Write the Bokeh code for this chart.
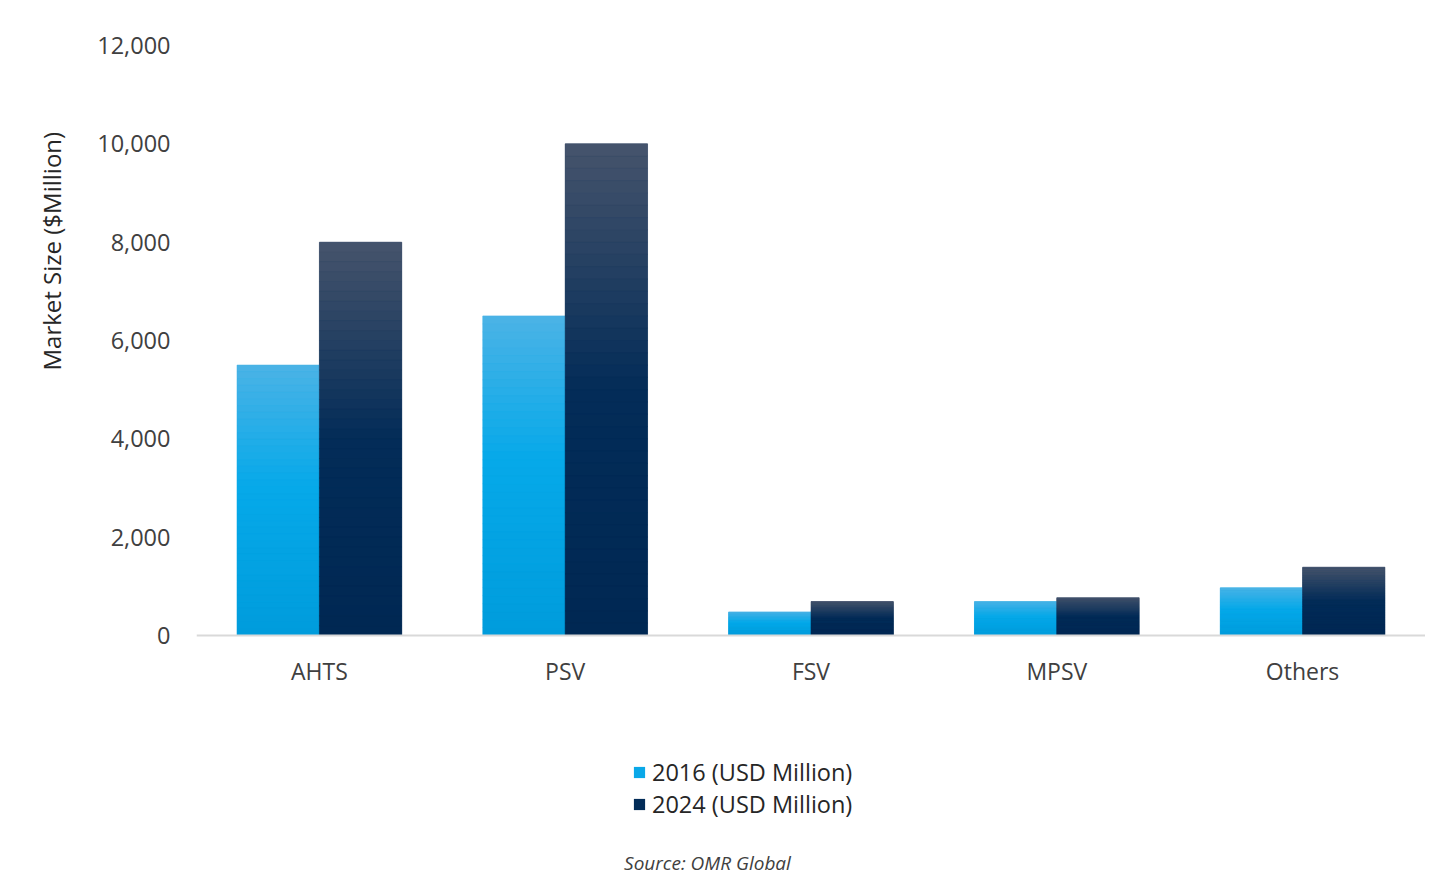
from bokeh.plotting import figure
from bokeh.models import (ColumnDataSource, Range1d, FixedTicker,
                          NumeralTickFormatter, Legend, LegendItem, Title, Label)
from bokeh.transform import dodge
from bokeh.embed import file_html
from bokeh.resources import INLINE

# ---- data ----
categories = ["AHTS", "PSV", "FSV", "MPSV", "Others"]
values_2016 = [5500, 6500, 480, 690, 970]
values_2024 = [8000, 10000, 690, 770, 1390]
series_names = ["2016 (USD Million)", "2024 (USD Million)"]
y_ticks = [0, 2000, 4000, 6000, 8000, 10000, 12000]
y_axis_title = "Market Size ($Million)"
source_note = "Source: OMR Global"
y_max = 12000

# ---- layout / style ----
FONT = "Open Sans"
TEXT = "#404040"
BAR_W = 0.335
OFFS = [-0.1675, 0.1675]
TOP = 45            # px above the frame
PLOT_H = 590        # px between value 0 and y_max
BELOW_H = 245       # px of frame kept below value 0 (legend + note area)
FRAME_H = PLOT_H + BELOW_H
y_min = -y_max * BELOW_H / PLOT_H
base_colors = ["#0aa8e8", "#022c58"]
stops = [
    [(0.0, "#4cb3e6"), (0.45, "#06a9e9"), (1.0, "#009cdc")],
    [(0.0, "#46546c"), (0.5, "#032c58"), (1.0, "#002853")],
]


def hex2rgb(h):
    h = h.lstrip("#")
    return [int(h[i:i + 2], 16) for i in (0, 2, 4)]


def interp(st, t):
    for (a, ca), (b, cb) in zip(st[:-1], st[1:]):
        if a <= t <= b:
            f = (t - a) / (b - a) if b > a else 0
            c1, c2 = hex2rgb(ca), hex2rgb(cb)
            c = [round(c1[k] + (c2[k] - c1[k]) * f) for k in range(3)]
            return "#%02x%02x%02x" % tuple(c)
    return st[-1][1]


p = figure(x_range=categories, y_range=Range1d(y_min, y_max),
           frame_width=1229, frame_height=FRAME_H, output_backend="svg",
           toolbar_location=None, min_border_left=196, min_border_right=0,
           min_border_top=TOP, min_border_bottom=0)
p.background_fill_color = "white"
p.border_fill_color = "white"
p.outline_line_color = None
p.xgrid.grid_line_color = None
p.ygrid.grid_line_color = None

base_src = ColumnDataSource(dict(cat=categories, v2016=values_2016, v2024=values_2024))
renderers = []
for k, col in enumerate(["v2016", "v2024"]):
    r = p.vbar(x=dodge("cat", OFFS[k], range=p.x_range), top=col, width=BAR_W,
               source=base_src, fill_color=base_colors[k], line_color=None)
    renderers.append(r)

# gradient overlay slices derived from the data values
N = 40
for k, vals in enumerate([values_2016, values_2024]):
    xs, tops, bottoms, cols = [], [], [], []
    for c, v in zip(categories, vals):
        for i in range(N):
            t0, t1 = i / N, (i + 1) / N
            xs.append(c)
            tops.append(v * (1 - t0))
            bottoms.append(v * (1 - t1))
            cols.append(interp(stops[k], (t0 + t1) / 2))
    src = ColumnDataSource(dict(x=xs, top=tops, bottom=bottoms, color=cols))
    p.vbar(x=dodge("x", OFFS[k], range=p.x_range), top="top", bottom="bottom",
           width=BAR_W, source=src, fill_color="color", line_color="color",
           line_width=0.6)

# x axis drawn at value 0 inside the frame
p.xaxis.fixed_location = 0
p.xaxis.axis_line_color = "#d9d9d9"
p.xaxis.axis_line_width = 2
p.xaxis.major_tick_line_color = None
p.xaxis.minor_tick_line_color = None
p.xaxis.major_label_text_font = FONT
p.xaxis.major_label_text_font_size = "23px"
p.xaxis.major_label_text_color = TEXT
p.xaxis.major_label_standoff = 13

p.yaxis.ticker = FixedTicker(ticks=y_ticks)
p.yaxis.formatter = NumeralTickFormatter(format="0,0")
p.yaxis.axis_line_color = None
p.yaxis.major_tick_line_color = None
p.yaxis.minor_tick_line_color = None
p.yaxis.major_label_text_font = FONT
p.yaxis.major_label_text_font_size = "23.5px"
p.yaxis.major_label_text_color = TEXT
p.yaxis.major_label_standoff = 20

# y axis title (side panel, left of the y axis)
p.add_layout(Title(text=y_axis_title, align="left", offset=FRAME_H - 370 + TOP,
                   standoff=50, vertical_align="top",
                   text_font=FONT, text_font_size="24px",
                   text_font_style="normal", text_color="#262626"), "left")

# legend inside the lower part of the frame
legend = Legend(items=[LegendItem(label=series_names[i], renderers=[renderers[i]])
                       for i in range(2)],
                location=(436, 60), orientation="vertical",
                label_text_font=FONT, label_text_font_size="23.5px",
                label_text_color="#262626", glyph_width=14, glyph_height=14,
                label_height=24, spacing=0, padding=0, margin=0,
                label_standoff=6,
                border_line_color=None, background_fill_alpha=0)
p.add_layout(legend, "center")

# source note
p.add_layout(Label(x=511, y=18, x_units="screen", y_units="screen",
                   text=source_note, text_align="center", text_baseline="middle",
                   text_font=FONT, text_font_size="19px",
                   text_font_style="italic", text_color="#404040"))

open("out.html", "w").write(file_html(p, INLINE))
